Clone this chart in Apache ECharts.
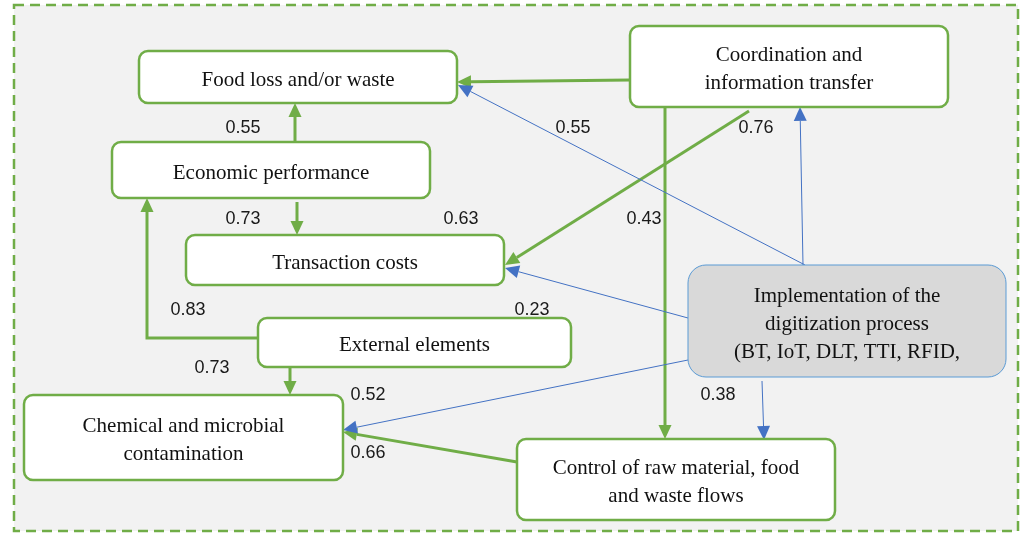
<!DOCTYPE html>
<html>
<head>
<meta charset="utf-8">
<script src="https://cdn.jsdelivr.net/npm/echarts@6/dist/echarts.min.js"></script>
<style>
  html, body { margin: 0; padding: 0; background: #fff; }
  #main { width: 1023px; height: 533px; }
</style>
</head>
<body>
<div id="main"></div>
<script>
// boxes of the diagram (text + extent in diagram units, y grows downwards)
var nodeNames = [
  'Food loss and/or waste',
  'Economic performance',
  'Transaction costs',
  'Coordination and\ninformation transfer',
  'Implementation of the\ndigitization process\n(BT, IoT, DLT, TTI, RFID,',
  'External elements',
  'Chemical and microbial\ncontamination',
  'Control of raw material, food\nand waste flows'
];
var nodeLeft   = [139, 112, 186, 630, 688, 258,  24, 517];
var nodeTop    = [ 51, 142, 235,  26, 265, 318, 395, 439];
var nodeRight  = [457, 430, 504, 948, 1006, 571, 343, 835];
var nodeBottom = [103, 198, 285, 107, 377, 367, 480, 520];
var nodeKind   = ['g', 'g', 'g', 'g', 'b', 'g', 'g', 'g'];

// arrows: path points, kind (g = green thick, b = blue thin)
var edgePaths = [
  [[630, 80], [457, 82]],              // coordination -> food loss
  [[295, 142], [295, 103]],            // economic -> food loss
  [[297, 202], [297, 235]],            // economic -> transaction
  [[258, 338], [147, 338], [147, 198]],// external -> economic
  [[290, 367], [290, 395]],            // external -> chemical
  [[749, 111], [505, 265]],            // coordination -> transaction
  [[665, 107], [665, 439]],            // coordination -> control
  [[517, 462], [343, 432]],            // control -> chemical
  [[805, 265], [458, 85]],             // implementation -> food loss
  [[803, 265], [800, 107]],            // implementation -> coordination
  [[688, 318], [505, 268]],            // implementation -> transaction
  [[688, 360], [343, 430]],            // implementation -> chemical
  [[762, 381], [764, 440]]             // implementation -> control
];
var edgeKind = ['g', 'g', 'g', 'g', 'g', 'g', 'g', 'g', 'b', 'b', 'b', 'b', 'b'];

// path coefficients and where they sit
var weightText = ['0.55', '0.55', '0.76', '0.73', '0.63', '0.43', '0.83', '0.23', '0.73', '0.52', '0.38', '0.66'];
var weightX    = [243, 573, 756, 243, 461, 644, 188, 532, 212, 368, 718, 368];
var weightY    = [128, 128, 128, 219, 219, 219, 310, 310, 368, 395, 395, 453];

var GREEN = '#70ad47';
var BLUE = '#4472c4';

var myChart = echarts.init(document.getElementById('main'));

function renderFrame(params, api) {
  var a = api.coord([14, 5]);
  var b = api.coord([1018, 531]);
  return {
    type: 'rect',
    shape: { x: a[0], y: a[1], width: b[0] - a[0], height: b[1] - a[1] },
    style: { fill: '#f2f2f2', stroke: GREEN, lineWidth: 2.5, lineDash: [10, 6] }
  };
}

function renderEdge(params, api) {
  var i = api.value(2);
  var pts = edgePaths[i].map(function (p) { return api.coord(p); });
  var n = pts.length;
  var tip = pts[n - 1], prev = pts[n - 2];
  var dx = tip[0] - prev[0], dy = tip[1] - prev[1];
  var d = Math.sqrt(dx * dx + dy * dy);
  dx /= d; dy /= d;
  var green = edgeKind[i] === 'g';
  var len = 14, hw = 6.5;
  var base = [tip[0] - dx * len, tip[1] - dy * len];
  var left = [base[0] - dy * hw, base[1] + dx * hw];
  var right = [base[0] + dy * hw, base[1] - dx * hw];
  var linePts = pts.slice(0, n - 1).concat([base]);
  var color = green ? GREEN : BLUE;
  return {
    type: 'group',
    children: [
      { type: 'polyline', shape: { points: linePts },
        style: { stroke: color, lineWidth: green ? 3 : 1, fill: null } },
      { type: 'polygon', shape: { points: [tip, left, right] },
        style: { fill: color } }
    ]
  };
}

function renderNode(params, api) {
  var i = api.value(2);
  var a = api.coord([nodeLeft[i], nodeTop[i]]);
  var b = api.coord([nodeRight[i], nodeBottom[i]]);
  var blue = nodeKind[i] === 'b';
  return {
    type: 'group',
    children: [
      { type: 'rect',
        shape: { x: a[0], y: a[1], width: b[0] - a[0], height: b[1] - a[1], r: blue ? 18 : 9 },
        style: { fill: blue ? '#d9d9d9' : '#fff', stroke: blue ? '#5b9bd5' : GREEN, lineWidth: blue ? 1 : 2.5 } },
      { type: 'text',
        style: { text: nodeNames[i], x: (a[0] + b[0]) / 2, y: (a[1] + b[1]) / 2 + 3,
          align: 'center', verticalAlign: 'middle', lineHeight: 28,
          font: '21px "Liberation Serif", serif', fill: '#111' } }
    ]
  };
}

function renderWeight(params, api) {
  var p = api.coord([api.value(0), api.value(1)]);
  return {
    type: 'text',
    style: { text: weightText[api.value(2)], x: p[0], y: p[1], align: 'center', verticalAlign: 'middle',
      font: '18px "Liberation Sans", Arial, sans-serif', fill: '#1a1a1a' }
  };
}

myChart.setOption({
  animation: false,
  grid: { left: 0, right: 0, top: 0, bottom: 0 },
  xAxis: { type: 'value', min: 0, max: 1023, show: false },
  yAxis: { type: 'value', min: 0, max: 533, inverse: true, show: false },
  series: [
    { type: 'custom', renderItem: renderFrame, data: [[0, 0]], encode: { x: 0, y: 1 }, clip: false, silent: true },
    { type: 'custom', renderItem: renderEdge, clip: false, silent: true,
      data: edgePaths.map(function (p, i) { return [p[p.length - 1][0], p[p.length - 1][1], i]; }),
      encode: { x: 0, y: 1 } },
    { type: 'custom', renderItem: renderNode, clip: false, silent: true,
      data: nodeNames.map(function (n, i) { return [(nodeLeft[i] + nodeRight[i]) / 2, (nodeTop[i] + nodeBottom[i]) / 2, i]; }),
      encode: { x: 0, y: 1 } },
    { type: 'custom', renderItem: renderWeight, clip: false, silent: true,
      data: weightText.map(function (t, i) { return [weightX[i], weightY[i], i]; }),
      encode: { x: 0, y: 1 } }
  ]
});
</script>
</body>
</html>
